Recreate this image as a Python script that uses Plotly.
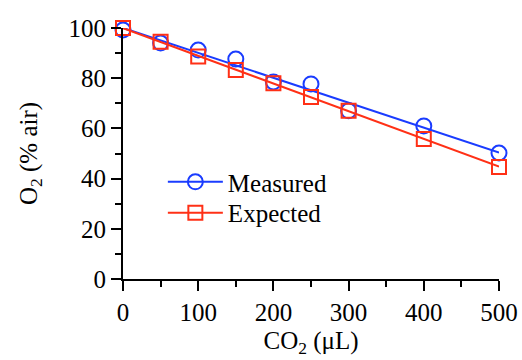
import numpy as np
import plotly.graph_objects as go

co2 = [0, 50, 100, 150, 200, 250, 300, 400, 500]
measured = [99.2, 94.0, 91.2, 87.6, 78.5, 77.7, 67.0, 61.0, 50.2]
expected = [100.0, 94.5, 88.6, 83.3, 78.0, 72.5, 67.0, 55.8, 44.6]

blue = "#1a3cff"
red = "#ff3016"
FONT = "Liberation Serif"
FS = 25

fig = go.Figure()
xs = np.array([0, 500])
series = [("Measured", measured, blue, "circle-open", 15, "legend"),
          ("Expected", expected, red, "square-open", 14, "legend2")]
for name, ys, col, sym, msz, leg in series:
    k, b = np.polyfit(co2, ys, 1)
    fig.add_trace(go.Scatter(x=xs, y=k * xs + b, mode="lines",
                             line=dict(color=col, width=2), showlegend=False,
                             hoverinfo="skip", cliponaxis=False))
    fig.add_trace(go.Scatter(x=co2, y=ys, mode="markers", showlegend=False,
                             marker=dict(symbol=sym, size=msz, color=col,
                                         line=dict(color=col, width=2)),
                             cliponaxis=False))
    # legend entry (line + marker)
    fig.add_trace(go.Scatter(x=[None], y=[None], mode="lines+markers", name=name,
                             legend=leg,
                             line=dict(color=col, width=2),
                             marker=dict(symbol=sym, size=msz, color=col,
                                         line=dict(color=col, width=2))))

axis_common = dict(showline=True, linecolor="black", linewidth=2,
                   ticks="outside", ticklen=10, tickwidth=2, tickcolor="black",
                   showgrid=False, zeroline=False, automargin=False,
                   tickfont=dict(family=FONT, size=FS, color="black"))
fig.update_xaxes(range=[0, 500], dtick=100, tick0=0,
                 minor=dict(ticks="outside", ticklen=6, tickwidth=2, tickcolor="black", dtick=50),
                 title=dict(text="CO<sub>2</sub> (μL)", font=dict(family=FONT, size=FS, color="black"), standoff=6),
                 **axis_common)
fig.update_yaxes(range=[0, 100], dtick=20, tick0=0,
                 minor=dict(ticks="outside", ticklen=6, tickwidth=2, tickcolor="black", dtick=10),
                 title=dict(text="O<sub>2</sub> (% air)", font=dict(family=FONT, size=FS, color="black"), standoff=24),
                 **axis_common)
leg_common = dict(xanchor="left", yanchor="middle", bgcolor="rgba(0,0,0,0)",
                  font=dict(family=FONT, size=FS, color="black"), itemwidth=55)
fig.update_layout(width=522, height=360, margin=dict(l=123, r=23, t=28, b=81, autoexpand=False),
                  plot_bgcolor="white", paper_bgcolor="white",
                  legend=dict(x=0.106, y=0.386, **leg_common),
                  legend2=dict(x=0.106, y=0.263, **leg_common))
fig.write_html("out.html", config={"displayModeBar": False},
               post_script="document.body.style.margin='0';")
